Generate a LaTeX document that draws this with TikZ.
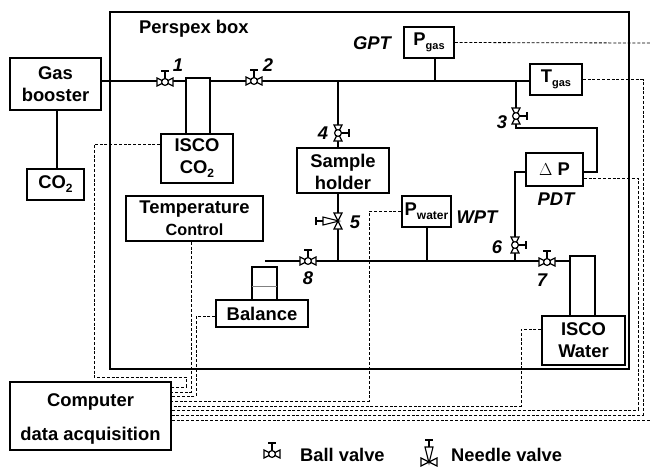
\documentclass[tikz,border=0pt]{standalone}
\usepackage{fontspec}
\setmainfont{Liberation Sans}
\usetikzlibrary{positioning, calc}

\newcommand{\lowtext}[2]{\raisebox{-4pt}{\fontsize{#1}{12}\selectfont #2}}

\tikzset{
  pics/ballvalve/.style={code={
    \draw[line width=1.2pt, fill=white] (-8,-4) -- (8,4) -- (8,-4) -- (-8,4) -- cycle;
    \draw[line width=1.2pt, fill=white] (0,0) circle (3.4);
    \draw[line width=1.3pt] (0,-3.4) -- (0,-11) (-4,-11) -- (4,-11);
  }},
  pics/needlevalve/.style={code={
    \draw[line width=1.2pt, fill=white] (-8,-4) -- (8,4) -- (8,-4) -- (-8,4) -- cycle;
    \draw[line width=1.1pt, fill=white] (-4,-15) -- (4,-15) -- (0,1) -- cycle;
    \draw[line width=1.3pt] (0,-15) -- (0,-22) (-4,-22) -- (4,-22);
  }}
}

\begin{document}
\begin{tikzpicture}[
  x=1pt, y=-1pt,
  box/.style={rectangle, draw, line width=1.7pt, inner sep=0pt, align=center, font=\bfseries\fontsize{18.4}{22}\selectfont},
  pipe/.style={line width=1.6pt},
  signal/.style={line width=0.8pt, dash pattern=on 3pt off 1.8pt},
  tag/.style={font=\bfseries\itshape\fontsize{18.4}{22}\selectfont, inner sep=0pt},
  legend/.style={font=\bfseries\fontsize{18.3}{22}\selectfont, inner sep=0pt, anchor=west}
]
\useasboundingbox (0,0) rectangle (650,467);

\draw[line width=1.9pt] (110,12) rectangle (629,369);
\node[font=\bfseries\fontsize{18.4}{22}\selectfont, inner sep=0pt, anchor=west] (perspex) at (139,29) {Perspex box};

% boxes
\node[box, minimum width=91pt, minimum height=52pt] (booster) at (55.5,84) {Gas\\booster};
\node[box, minimum width=57pt, minimum height=31pt] (co2) at (55.5,184.5) {CO\lowtext{12}{2}};
\node[box, minimum width=72pt, minimum height=49pt] (iscogas) at (197,158.5) {ISCO\\CO\lowtext{12}{2}};
\node[box, minimum width=137pt, minimum height=45pt] (temp) at (194.5,218.5) {Temperature\\{\fontsize{16.2}{18}\selectfont Control}};
\node[box, minimum width=92pt, minimum height=45pt] (holder) at (343,170.5) {\rule{0pt}{16pt}Sample\\holder};
\node[box, minimum width=50pt, minimum height=31pt] (pgas) at (429,42.5) {P\lowtext{11}{gas}};
\node[box, minimum width=52pt, minimum height=31pt] (tgas) at (556,79.5) {T\lowtext{11}{gas}};
\node[box, minimum width=57pt, minimum height=33pt] (dp) at (554.5,169.5) {$\Delta$ P};
\node[box, minimum width=49pt, minimum height=31pt] (pwater) at (426.5,211.5) {P\lowtext{12}{water}};
\node[box, minimum width=92pt, minimum height=27pt] (balance) at (262,313.5) {Balance};
\node[box, minimum width=83pt, minimum height=49pt] (iscowater) at (583.5,340.5) {ISCO\\Water};
\node[box, minimum width=161pt, minimum height=68pt] (computer) at (90.5,416) {\rule{0pt}{19pt}Computer\\[12pt]data acquisition};

% cylinders and beaker
\draw[line width=1.7pt] (186,134) |- (210,78) -- (210,134);
\draw[line width=1.7pt] (570,316) |- (595,256) -- (595,316);
\draw[line width=1.7pt] (252,300) |- (277,267) -- (277,300);
\draw[line width=1pt, gray] (252,286) -- (277,286);

% pipes
\coordinate (waterend) at (265,261);
\coordinate (joingas) at (338,81);
\coordinate (jointop) at (435,81);
\coordinate (joinpdt) at (516,81);
\coordinate (joinwater) at (338,261);
\coordinate (joinwpt) at (427,261);
\coordinate (joinsix) at (515,261);
\coordinate (joinco) at (57,184);
\coordinate (bendleft) at (515,172);
\coordinate (bendright) at (597,172);
\coordinate (bendtop) at (516,128);
\draw[pipe] (booster.east |- 0,81) -- (186,81);
\draw[pipe] (210,81) -- (tgas.west |- 0,81);
\draw[pipe] (booster.south -| joinco) -- (co2.north -| joinco);
\draw[pipe] (jointop) -- (jointop |- pgas.south);
\draw[pipe] (joingas) -- (joingas |- holder.north);
\draw[pipe] (joingas |- holder.south) -- (joinwater);
\draw[pipe] (waterend) -- (570,261);
\draw[pipe] (joinwpt) -- (joinwpt |- pwater.south);
\draw[pipe] (joinpdt) -- (bendtop) -- (bendtop -| bendright) -- (bendright) -- (dp.east |- bendright);
\draw[pipe] (joinsix) -- (bendleft) -- (dp.west |- bendleft);

% valves
\pic at (165,82) {ballvalve};
\pic at (254,81) {ballvalve};
\pic[rotate=-90] at (516,116) {ballvalve};
\pic[rotate=-90] at (338,133) {ballvalve};
\pic[rotate=-90] at (515,245) {ballvalve};
\pic at (547,262) {ballvalve};
\pic at (308,261) {ballvalve};
\pic[rotate=90] at (338,221) {needlevalve};

\node[tag] (v1) at (178,65) {1};
\node[tag] (v2) at (268,65) {2};
\node[tag] (v3) at (502,122) {3};
\node[tag] (v4) at (323,133) {4};
\node[tag] (v5) at (355,222) {5};
\node[tag] (v6) at (497,247) {6};
\node[tag] (v7) at (542,280) {7};
\node[tag] (v8) at (308,278) {8};
\node[tag] (gpt) at (372,43) {GPT};
\node[tag] (wpt) at (477,217) {WPT};
\node[tag] (pdt) at (556,199) {PDT};

% signal lines
\coordinate (edgetop) at (650,43);
\coordinate (edgelow) at (650,420);
\draw[signal] (iscogas.west |- 0,144) -| (94,377) -| (186,387) -- (computer.east |- 0,387);
\draw[signal] (temp.south -| 191,0) -- (191,392) -- (computer.east |- 0,392);
\draw[signal] (balance.west |- 0,316) -| (196,396) -- (computer.east |- 0,396);
\draw[signal] (pwater.west) -| (369,401) -- (computer.east |- 0,401);
\draw[signal] (iscowater.west |- 0,329) -| (521,406) -- (computer.east |- 0,406);
\draw[signal] (dp.east |- 0,178) -| (638,410) -- (computer.east |- 0,410);
\draw[signal] (tgas.east) -| (643,415) -- (computer.east |- 0,415);
\draw[signal] (pgas.east) -- (edgetop);
\draw[signal] (computer.east |- edgelow) -- (edgelow);

% legend
\pic at (272,454) {ballvalve};
\node[legend] (ballkey) at (300,455) {Ball valve};
\pic at (429,462) {needlevalve};
\node[legend] (needlekey) at (451,455) {Needle valve};
\end{tikzpicture}
\end{document}
